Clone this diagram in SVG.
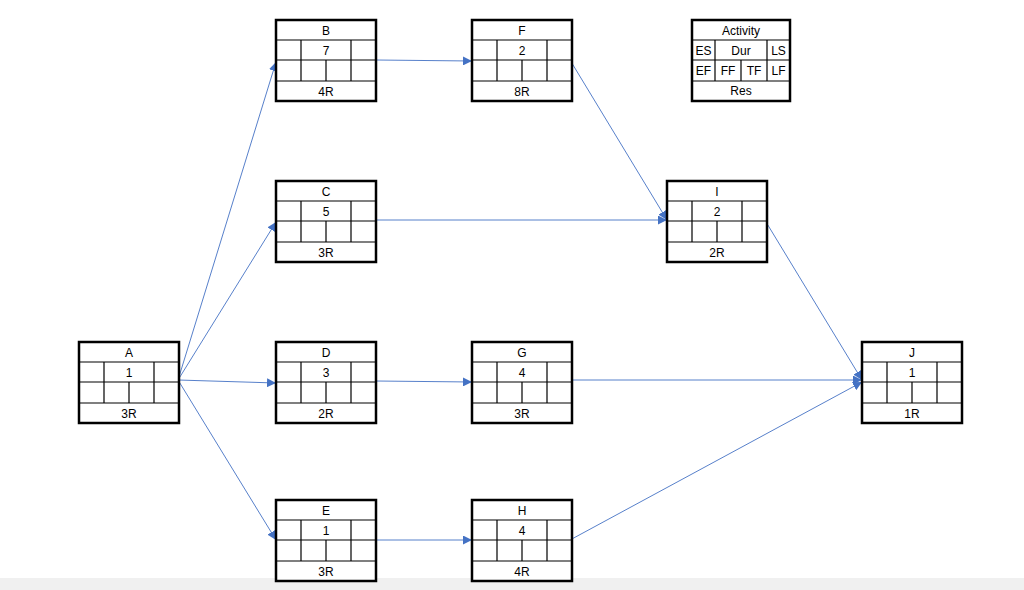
<svg xmlns="http://www.w3.org/2000/svg" width="1024" height="590" viewBox="0 0 1024 590">
<defs>
<style>
.o{fill:#fff;stroke:#000;stroke-width:2.5}
.l{stroke:#000;stroke-width:1.2;fill:none}
text{font-family:"Liberation Sans",Arial,sans-serif;font-size:12px;text-anchor:middle;fill:#000}
.e{stroke:#4472C4;stroke-width:0.9;fill:none;marker-end:url(#a)}
</style>
<marker id="a" viewBox="0 0 10 10" refX="10" refY="5" markerWidth="9" markerHeight="9" markerUnits="userSpaceOnUse" orient="auto"><path d="M0,0L10,5L0,10z" fill="#4472C4"/></marker>
<g id="node">
<rect class="o" x="0" y="0" width="100" height="81"/>
<path class="l" d="M0,20H100M0,40H100M0,61H100M25,20V61M75,20V61M50,40V61"/>
</g>
</defs>
<rect x="0" y="578" width="1024" height="12" fill="#f0f0f0"/>
<g id="connectors">
<path class="e" d="M178,380L276,62"/>
<path class="e" d="M178,380L276,222"/>
<path class="e" d="M178,380L276,383"/>
<path class="e" d="M178,380L276,540"/>
<path class="e" d="M376,60L472,61"/>
<path class="e" d="M570,60L667,220"/>
<path class="e" d="M376,220L667,220"/>
<path class="e" d="M766,222L862,380"/>
<path class="e" d="M376,381L472,382"/>
<path class="e" d="M570,380L862,380"/>
<path class="e" d="M376,540L472,540"/>
<path class="e" d="M570,540L862,382"/>
</g>
<g id="A" transform="translate(79,342)"><use href="#node"/><text x="50" y="15">A</text><text x="50" y="35">1</text><text x="50" y="76">3R</text></g>
<g id="B" transform="translate(276,20)"><use href="#node"/><text x="50" y="15">B</text><text x="50" y="35">7</text><text x="50" y="76">4R</text></g>
<g id="C" transform="translate(276,181)"><use href="#node"/><text x="50" y="15">C</text><text x="50" y="35">5</text><text x="50" y="76">3R</text></g>
<g id="D" transform="translate(276,342)"><use href="#node"/><text x="50" y="15">D</text><text x="50" y="35">3</text><text x="50" y="76">2R</text></g>
<g id="E" transform="translate(276,500)"><use href="#node"/><text x="50" y="15">E</text><text x="50" y="35">1</text><text x="50" y="76">3R</text></g>
<g id="F" transform="translate(472,20)"><use href="#node"/><text x="50" y="15">F</text><text x="50" y="35">2</text><text x="50" y="76">8R</text></g>
<g id="G" transform="translate(472,342)"><use href="#node"/><text x="50" y="15">G</text><text x="50" y="35">4</text><text x="50" y="76">3R</text></g>
<g id="H" transform="translate(472,500)"><use href="#node"/><text x="50" y="15">H</text><text x="50" y="35">4</text><text x="50" y="76">4R</text></g>
<g id="I" transform="translate(667,181)"><use href="#node"/><text x="50" y="15">I</text><text x="50" y="35">2</text><text x="50" y="76">2R</text></g>
<g id="J" transform="translate(862,342)"><use href="#node"/><text x="50" y="15">J</text><text x="50" y="35">1</text><text x="50" y="76">1R</text></g>
<g id="legend" transform="translate(692,20)">
<rect class="o" x="0" y="0" width="98" height="81"/>
<path class="l" d="M0,20H98M0,40H98M0,61H98M23,20V61M75,20V61M49,40V61"/>
<text x="49" y="15">Activity</text>
<text x="11.5" y="35">ES</text><text x="49" y="35">Dur</text><text x="86.5" y="35">LS</text>
<text x="11.5" y="55">EF</text><text x="36" y="55">FF</text><text x="62" y="55">TF</text><text x="86.5" y="55">LF</text>
<text x="49" y="75">Res</text>
</g>
</svg>
